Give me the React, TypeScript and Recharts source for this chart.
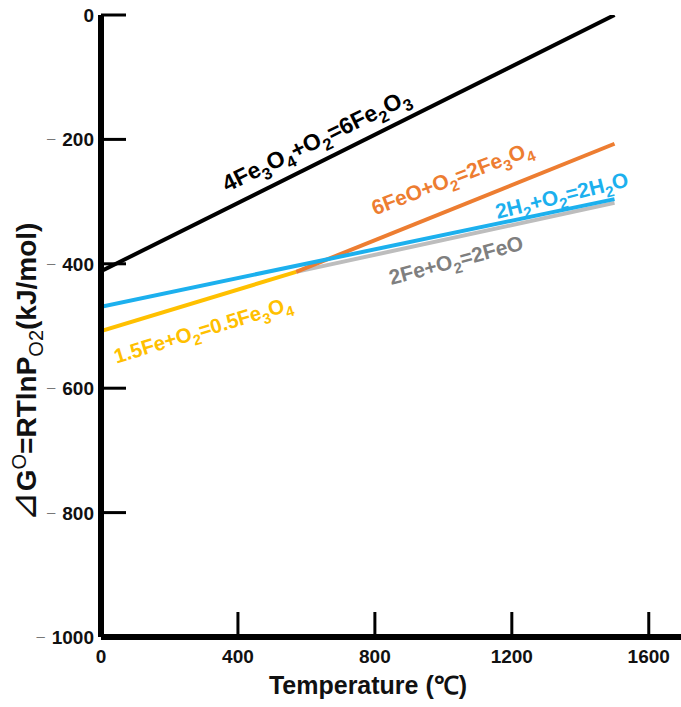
import React from 'react';
import { LineChart, Line, XAxis, YAxis, ReferenceDot } from 'recharts';

// ---- data (temperature °C, ΔG° kJ/mol) ----
const fe3o4ToFe2o3 = [
  { t: 0, g: -412 },
  { t: 1500, g: 0 },
];
const feoToFe3o4 = [
  { t: 570, g: -413 },
  { t: 1500, g: -207 },
];
const h2ToH2o = [
  { t: 0, g: -469 },
  { t: 1500, g: -296 },
];
const feToFeo = [
  { t: 570, g: -413 },
  { t: 1500, g: -302 },
];
const feToFe3o4 = [
  { t: 0, g: -508 },
  { t: 570, g: -413 },
];

const xTicks = [0, 400, 800, 1200, 1600];
const yTicks = [0, -200, -400, -600, -800, -1000];

type Seg = [string, '' | 'sub' | 'sup'];

const blackFormula: Seg[] = [['4Fe', ''], ['3', 'sub'], ['O', ''], ['4', 'sub'], ['+O', ''], ['2', 'sub'], ['=6Fe', ''], ['2', 'sub'], ['O', ''], ['3', 'sub']];
const orangeFormula: Seg[] = [['6FeO+O', ''], ['2', 'sub'], ['=2Fe', ''], ['3', 'sub'], ['O', ''], ['4', 'sub']];
const blueFormula: Seg[] = [['2H', ''], ['2', 'sub'], ['+O', ''], ['2', 'sub'], ['=2H', ''], ['2', 'sub'], ['O', '']];
const grayFormula: Seg[] = [['2Fe+O', ''], ['2', 'sub'], ['=2FeO', '']];
const yellowFormula: Seg[] = [['1.5Fe+O', ''], ['2', 'sub'], ['=0.5Fe', ''], ['3', 'sub'], ['O', ''], ['4', 'sub']];

const FONT = "Arial, 'Liberation Sans', Helvetica, sans-serif";

const COLORS = {
  black: '#000000',
  orange: '#ED7D31',
  blue: '#1CB0EE',
  gray: '#BDBDBD',
  grayText: '#7F7F7F',
  yellow: '#FFC000',
};

// label anchors (data units) with rotation angles
const labels = [
  { segs: blackFormula, t: 628, g: -201, angle: -26, color: COLORS.black, size: 23 },
  { segs: orangeFormula, t: 1026, g: -262, angle: -21, color: COLORS.orange, size: 21 },
  { segs: blueFormula, t: 1346, g: -290, angle: -14, color: COLORS.blue, size: 21 },
  { segs: grayFormula, t: 1037, g: -394, angle: -15, color: COLORS.grayText, size: 21 },
  { segs: yellowFormula, t: 298, g: -506, angle: -17, color: COLORS.yellow, size: 20.5 },
];

function Formula(props: any) {
  const { cx, cy, angle, segs, color, size } = props;
  if (cx == null || cy == null) return null;
  let offset = 0;
  const shift = size * 0.28;
  const parts = segs.map((s: Seg, i: number) => {
    let target = 0;
    if (s[1] === 'sub') target = shift;
    if (s[1] === 'sup') target = -shift * 1.3;
    const dy = target - offset;
    offset = target;
    return (
      <tspan key={i} dy={dy} fontSize={s[1] ? size * 0.72 : size}>
        {s[0]}
      </tspan>
    );
  });
  return (
    <text
      x={cx}
      y={cy + size * 0.35}
      transform={`rotate(${angle} ${cx} ${cy})`}
      textAnchor="middle"
      fill={color}
      fontFamily={FONT}
      fontWeight="bold"
      fontSize={size}
    >
      {parts}
    </text>
  );
}

function YTick(props: any) {
  const { x, y, payload } = props;
  const v = payload.value;
  return (
    <g>
      <line x1={x} x2={x + 25} y1={y} y2={y} stroke="#000" strokeWidth={3} />
      <text x={x - 7} y={y + 7} textAnchor="end" fontFamily={FONT} fontWeight="bold" fontSize={19} fill="#111">
        {v === 0 ? (
          '0'
        ) : (
          <>
            <tspan fill="#777" fontWeight="normal" fontSize={15} dy={-3}>–</tspan>
            <tspan dx={7} dy={3}>{String(Math.abs(v))}</tspan>
          </>
        )}
      </text>
    </g>
  );
}

function XTick(props: any) {
  const { x, y, payload } = props;
  return (
    <g>
      <line x1={x} x2={x} y1={y} y2={y - 25} stroke="#000" strokeWidth={3} />
      <text x={x} y={y + 26} textAnchor="middle" fontFamily={FONT} fontWeight="bold" fontSize={19} fill="#111">
        {String(payload.value)}
      </text>
    </g>
  );
}

function YTitle() {
  const cx = 26;
  const cy = 372;
  return (
    <text
      x={cx}
      y={cy + 10}
      transform={`rotate(-90 ${cx} ${cy})`}
      textAnchor="middle"
      fontFamily={FONT}
      fontWeight="bold"
      fontSize={28}
      fill="#111"
    >
      <tspan fontWeight="normal" fontSize={36} fontFamily="'DejaVu Sans', sans-serif">⊿</tspan>
      <tspan>G</tspan>
      <tspan dy={-10} fontSize={20} fontWeight="normal">O</tspan>
      <tspan dy={10}>=RTlnP</tspan>
      <tspan dy={7} fontSize={20} fontWeight="normal">O2</tspan>
      <tspan dy={-7}>(kJ/mol)</tspan>
    </text>
  );
}

function XTitle() {
  return (
    <text x={368} y={694} textAnchor="middle" fontFamily={FONT} fontWeight="bold" fontSize={25} fill="#111">
      Temperature (℃)
    </text>
  );
}

export default function App() {
  return (
    <div style={{ position: 'absolute', left: 0, top: 0, width: 681, height: 707, background: '#fff' }}>
      <LineChart width={681} height={707} margin={{ top: 15, right: -2, bottom: 0, left: 0 }}>
        <XAxis
          type="number"
          dataKey="t"
          domain={[0, 1700]}
          ticks={xTicks}
          allowDataOverflow
          height={70}
          axisLine={{ stroke: '#000', strokeWidth: 6 }}
          tickLine={false}
          tickSize={0}
          tickMargin={0}
          tick={<XTick />}
          interval={0}
          label={<XTitle />}
        />
        <YAxis
          type="number"
          dataKey="g"
          domain={[-1000, 0]}
          ticks={yTicks}
          allowDataOverflow
          width={101}
          axisLine={{ stroke: '#000', strokeWidth: 6 }}
          tickLine={false}
          tickSize={0}
          tickMargin={0}
          tick={<YTick />}
          interval={0}
          label={<YTitle />}
        />
        <Line data={feToFeo} dataKey="g" stroke={COLORS.gray} strokeWidth={4} dot={false} isAnimationActive={false} />
        <Line data={feToFe3o4} dataKey="g" stroke={COLORS.yellow} strokeWidth={4} dot={false} isAnimationActive={false} />
        <Line data={feoToFe3o4} dataKey="g" stroke={COLORS.orange} strokeWidth={4} dot={false} isAnimationActive={false} />
        <Line data={h2ToH2o} dataKey="g" stroke={COLORS.blue} strokeWidth={4} dot={false} isAnimationActive={false} />
        <Line data={fe3o4ToFe2o3} dataKey="g" stroke={COLORS.black} strokeWidth={4} dot={false} isAnimationActive={false} />
        {labels.map((l, i) => (
          <ReferenceDot
            key={i}
            x={l.t}
            y={l.g}
            r={0}
            ifOverflow="visible"
            shape={(p: any) => <Formula cx={p.cx} cy={p.cy} angle={l.angle} segs={l.segs} color={l.color} size={l.size} />}
          />
        ))}
      </LineChart>
    </div>
  );
}
